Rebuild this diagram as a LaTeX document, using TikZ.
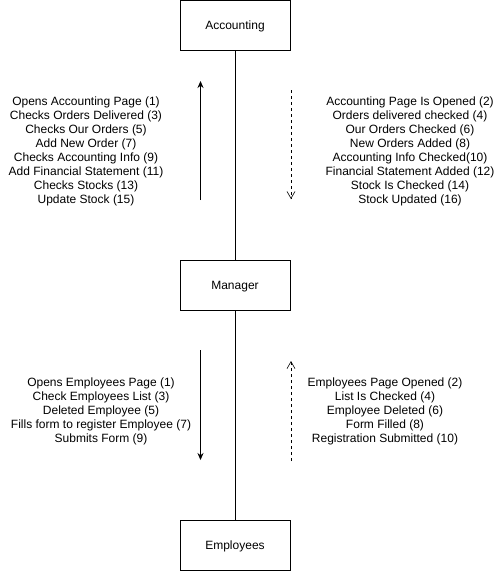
\documentclass[tikz,border=0pt]{standalone}
\usepackage{fontspec}
\setmainfont{Liberation Sans}
\usetikzlibrary{arrows.meta}
\begin{document}
\begin{tikzpicture}[x=1pt, y=-1pt,
  box/.style={rectangle, draw, line width=0.8pt, minimum height=50pt, minimum width=110pt, text height=8.6pt, text depth=0.5pt, font=\fontsize{12}{14}\selectfont},
  msgs/.style={align=center, font=\fontsize{12}{14}\selectfont},
  call/.style={-{Stealth[length=7pt, width=6pt]}, line width=0.8pt},
  reply/.style={-{Straight Barb[length=7pt, width=8pt]}, dashed, line width=0.6pt}]
  \useasboundingbox (0,0) rectangle (500,571);
  % Nodes
  \node (accounting) [box] at (235, 25) {Accounting};
  \node (manager) [box] at (235, 285) {Manager};
  \node (employees) [box] at (235, 545) {Employees};
  % Links
  \draw[line width=0.8pt] (accounting) -- (manager);
  \draw[line width=0.8pt] (manager) -- (employees);
  % Arrow ends
  \coordinate (accUpS) at (200.5, 200);
  \coordinate (accUpE) at (200.5, 81);
  \coordinate (accDownS) at (291, 90);
  \coordinate (accDownE) at (291, 199);
  \coordinate (empDownS) at (200.5, 350);
  \coordinate (empDownE) at (200.5, 460);
  \coordinate (empUpS) at (291, 461);
  \coordinate (empUpE) at (291, 361);
  % Arrow
  \draw[call] (accUpS) -- (accUpE);
  \draw[reply] (accDownS) -- (accDownE);
  \draw[call] (empDownS) -- (empDownE);
  \draw[reply] (empUpS) -- (empUpE);
  % Labels
  \node (accCalls) [msgs] at (86, 151.5) {Opens Accounting Page (1)\\Checks Orders Delivered (3)\\Checks Our Orders (5)\\Add New Order (7)\\Checks Accounting Info (9)\\Add Financial Statement (11)\\Checks Stocks (13)\\Update Stock (15)};
  \node (accReplies) [msgs] at (410, 151.5) {Accounting Page Is Opened (2)\\Orders delivered checked (4)\\Our Orders Checked (6)\\New Orders Added (8)\\Accounting Info Checked(10)\\Financial Statement Added (12)\\Stock Is Checked (14)\\Stock Updated (16)};
  \node (empCalls) [msgs] at (101, 411.5) {Opens Employees Page (1)\\Check Employees List (3)\\Deleted Employee (5)\\Fills form to register Employee (7)\\Submits Form (9)};
  \node (empReplies) [msgs] at (385, 411.5) {Employees Page Opened (2)\\List Is Checked (4)\\Employee Deleted (6)\\Form Filled (8)\\Registration Submitted (10)};
\end{tikzpicture}
\end{document}
